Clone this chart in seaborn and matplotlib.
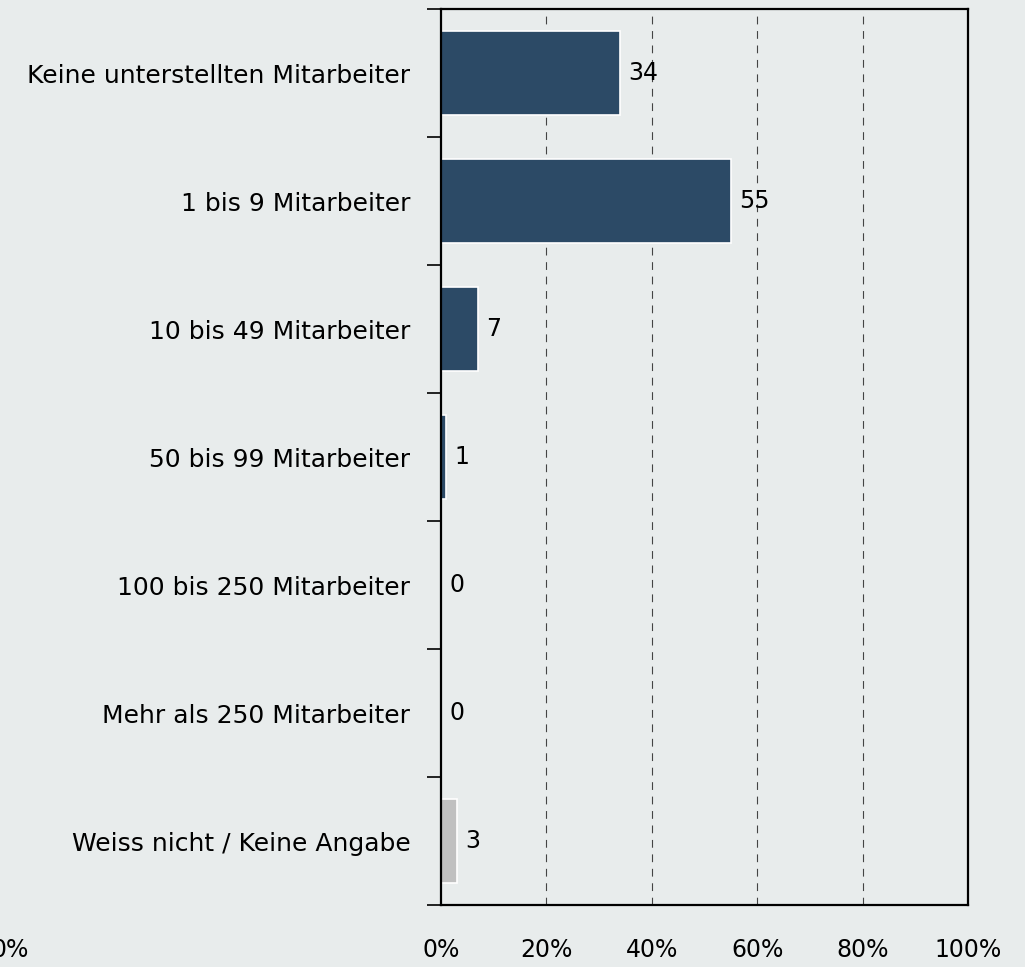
import numpy as np
import pandas as pd
import seaborn as sns
import matplotlib.pyplot as plt

categories = ["Keine unterstellten Mitarbeiter", "1 bis 9 Mitarbeiter", "10 bis 49 Mitarbeiter",
              "50 bis 99 Mitarbeiter", "100 bis 250 Mitarbeiter", "Mehr als 250 Mitarbeiter",
              "Weiss nicht / Keine Angabe"]
values = [34, 55, 7, 1, 0, 0, 3]
groups = ["valid", "valid", "valid", "valid", "valid", "valid", "none"]
xticks = [0, 20, 40, 60, 80, 100]

bg = "#e8ecec"
sns.set_style("white")
plt.rcParams['font.family'] = ['DejaVu Sans']
plt.rcParams['text.color'] = 'black'
plt.rcParams['xtick.color'] = 'black'
plt.rcParams['ytick.color'] = 'black'

df = pd.DataFrame({"cat": categories, "val": values, "grp": groups})

fig = plt.figure(figsize=(10.25, 9.67), dpi=100, facecolor=bg)
ax = fig.add_axes([441/1025, 1-905/967, 527/1025, 896/967])
ax.set_facecolor(bg)

sns.barplot(data=df, x="val", y="cat", hue="grp", orient="h", dodge=False,
            palette={"valid": "#2c4a66", "none": "#c0c0c0"}, width=0.66,
            saturation=1, edgecolor="white", linewidth=1.2, legend=False,
            ax=ax, zorder=3)

fs = 17
for i, v in enumerate(values):
    ax.text(v + 1.6, i, str(v), va="center", ha="left", fontsize=fs, zorder=4)

ax.set_xlim(0, 100)
ax.set_ylim(len(categories) - 0.5, -0.5)
ax.set_xticks(xticks)
ax.set_xticklabels([f"{t}%" for t in xticks], fontsize=fs)
ax.tick_params(axis="x", length=0, pad=24)
for t in xticks[1:-1]:
    ax.axvline(t, color="#444444", lw=0.8, ls=(0, (7, 6)), zorder=1)

ax.set_yticks(np.arange(-0.5, len(categories), 1))
ax.set_yticklabels([])
ax.tick_params(axis="y", which="major", left=True, length=10, width=1.2, color="black")
ax.set_yticks(np.arange(len(categories)), minor=True)
ax.set_yticklabels(categories, minor=True, fontsize=18)
ax.tick_params(axis="y", which="minor", left=True, length=0, pad=22)
ax.set_xlabel("")
ax.set_ylabel("")
for s in ax.spines.values():
    s.set_color("black")
    s.set_linewidth(1.6)
    s.set_zorder(5)

fig.text(10/1025, 1-950/967, "0%", fontsize=fs, ha="center", va="center")

fig.savefig("out.png", dpi=100, facecolor=bg)
